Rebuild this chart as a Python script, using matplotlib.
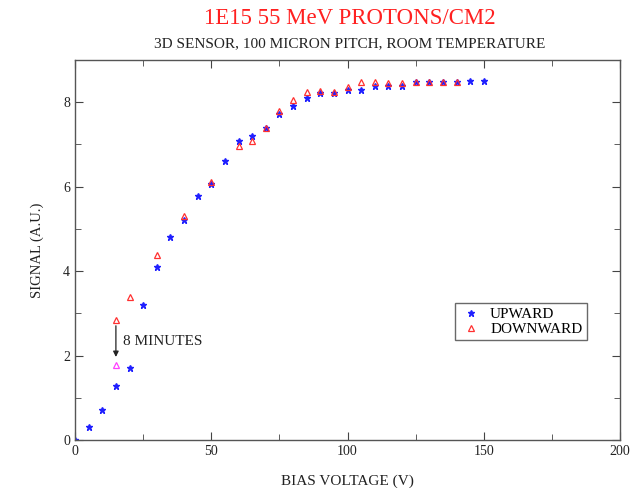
import matplotlib
matplotlib.use("Agg")
import matplotlib.pyplot as plt
from matplotlib.ticker import MultipleLocator

plt.rcParams['font.family'] = ['Liberation Serif', 'DejaVu Serif']

# Upward voltage scan
up_v = [0, 5, 10, 15, 20, 25, 30, 35, 40, 45, 50, 55, 60, 65, 70, 75, 80, 85,
        90, 95, 100, 105, 110, 115, 120, 125, 130, 135, 140, 145, 150]
up_s = [0.0, 0.31, 0.70, 1.29, 1.70, 3.20, 4.09, 4.80, 5.20, 5.79, 6.07, 6.60,
        7.09, 7.19, 7.38, 7.72, 7.90, 8.10, 8.21, 8.21, 8.29, 8.29, 8.39, 8.39,
        8.39, 8.49, 8.49, 8.49, 8.49, 8.50, 8.50]

# Downward voltage scan
down_v = [15, 20, 30, 40, 50, 60, 65, 70, 75, 80, 85, 90, 95, 100, 105, 110,
          115, 120, 125, 130, 135, 140]
down_s = [2.85, 3.38, 4.38, 5.30, 6.10, 6.97, 7.07, 7.38, 7.80, 8.05, 8.25,
          8.27, 8.24, 8.37, 8.47, 8.47, 8.45, 8.45, 8.49, 8.49, 8.49, 8.49]

# Signal after waiting 8 minutes at 15 V
late_v = [15]
late_s = [1.77]

fig = plt.figure(figsize=(6.39, 4.88), dpi=100)
ax = fig.add_axes([0.1174, 0.0984, 0.853, 0.7787])

ax.plot(up_v, up_s, linestyle='none', marker='*', markersize=4.5,
        color='#2020ff', label='UPWARD')
ax.plot(down_v, down_s, linestyle='none', marker='^', markersize=4.5,
        markerfacecolor='none', markeredgecolor='#ff3030', markeredgewidth=0.9,
        label='DOWNWARD')
ax.plot(late_v, late_s, linestyle='none', marker='^', markersize=4.5,
        markerfacecolor='none', markeredgecolor='#ff40ff', markeredgewidth=0.9)

ax.annotate('', xy=(15, 1.9), xytext=(15, 2.77),
            arrowprops=dict(arrowstyle='-|>', color='#222222', lw=0.9,
                            mutation_scale=8))
ax.text(17.6, 2.34, '8 MINUTES', fontsize=11, va='center', ha='left',
        color='#222222')

ax.set_xlim(0, 200)
ax.set_ylim(0, 9)
ax.xaxis.set_major_locator(MultipleLocator(50))
ax.xaxis.set_minor_locator(MultipleLocator(25))
ax.yaxis.set_major_locator(MultipleLocator(2))
ax.yaxis.set_minor_locator(MultipleLocator(1))
ax.tick_params(which='both', direction='in', top=True, right=True,
               colors='#444444', labelcolor='#222222', labelsize=10)
ax.tick_params(which='major', length=6)
ax.tick_params(which='minor', length=4)
for sp in ax.spines.values():
    sp.set_color('#555555')
    sp.set_linewidth(1.0)

ax.set_xlabel('BIAS VOLTAGE (V)', fontsize=11, color='#222222', labelpad=12)
ax.set_ylabel('SIGNAL (A.U.)', fontsize=10.5, color='#222222', labelpad=14)

fig.text(0.548, 0.962, '1E15 55 MeV PROTONS/CM2', ha='center', va='center',
         fontsize=16.5, color='#ff2020')
fig.text(0.548, 0.911, '3D SENSOR, 100 MICRON PITCH, ROOM TEMPERATURE',
         ha='center', va='center', fontsize=11, color='#222222')

leg = ax.legend(loc='upper left', bbox_to_anchor=(0.697, 0.36), fontsize=11,
                frameon=True, fancybox=False, handlelength=1.5,
                handletextpad=0.5, borderpad=0.3, labelspacing=0.05,
                borderaxespad=0.0)
leg.get_frame().set_edgecolor('#444444')
leg.get_frame().set_linewidth(1.0)

fig.savefig('out.png', dpi=100)
